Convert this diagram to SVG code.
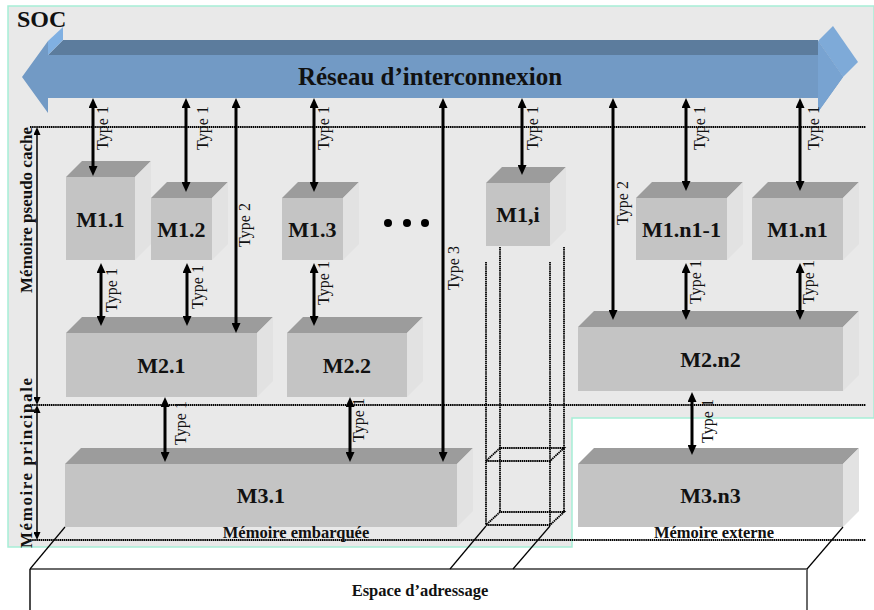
<svg xmlns="http://www.w3.org/2000/svg" width="874" height="610" viewBox="0 0 874 610">
<defs>
<style>
.lbl{font-family:"Liberation Serif","Times New Roman",serif;font-weight:bold;font-size:22px;text-anchor:middle;fill:#111}
.ty{font-family:"Liberation Serif","Times New Roman",serif;font-size:16px;text-anchor:middle;fill:#111}
.bl{font-family:"Liberation Serif","Times New Roman",serif;font-weight:bold;fill:#111}
.front{fill:#c4c4c4}
.top{fill:#9c9c9c}
.side{fill:#e2e2e2}
.conn{stroke:#000;stroke-width:3;fill:none;marker-start:url(#ah);marker-end:url(#ah)}
.dim{stroke:#000;stroke-width:1.5;fill:none;marker-start:url(#sh);marker-end:url(#sh)}
.dot{stroke:#000;stroke-width:2;stroke-dasharray:1.5 0.6;fill:none}
.wire{stroke:#000;stroke-width:1.8;stroke-dasharray:1.5 0.6;fill:none}
.thin{stroke:#000;stroke-width:1.2;fill:none}
</style>
<marker id="ah" viewBox="0 0 10 9" markerWidth="10" markerHeight="9" refX="2" refY="4.5" orient="auto-start-reverse" markerUnits="userSpaceOnUse"><path d="M0,0 L10,4.5 L0,9 Z" fill="#000"/></marker>
<marker id="sh" viewBox="0 0 8 7" markerWidth="8" markerHeight="7" refX="1" refY="3.5" orient="auto-start-reverse" markerUnits="userSpaceOnUse"><path d="M0,0 L8,3.5 L0,7 Z" fill="#000"/></marker>
</defs>

<rect x="0" y="0" width="874" height="610" fill="#fff"/>

<g id="soc">
<polygon points="8,6 874,6 874,418 572,418 572,547 8,547" fill="#e9e9e9" stroke="#a6eed6" stroke-width="1.5"/>
<text class="bl" x="17" y="27" font-size="24">SOC</text>
</g>

<g id="reseau">
<polygon points="48,55 63,40 818,40 818,55" fill="#5c7c9d"/>
<polygon points="48,41 63,27 63,40 48,55" fill="#80b0e2"/>
<polygon points="818,41 833,26 858,62 843,77" fill="#7eaad8"/>
<polygon points="22,77 48,41 48,55 818,55 818,41 843,77 818,112 818,98 48,98 48,113" fill="#729ac5"/>
<polygon points="818,41 843,77 818,112" fill="#78a3d1"/>
<text class="bl" x="430" y="85" font-size="25" text-anchor="middle">Réseau d’interconnexion</text>
</g>

<g id="niveaux">
<line class="dot" x1="30" y1="127" x2="866" y2="127"/>
<line class="dot" x1="30" y1="405" x2="866" y2="405"/>
<line class="dot" x1="28" y1="540" x2="866" y2="540"/>
<line class="dim" x1="37" y1="134" x2="37" y2="398"/>
<line class="dim" x1="37" y1="412" x2="37" y2="533"/>
<text class="bl" font-size="17" text-anchor="middle" transform="translate(32,210) rotate(-90)">Mémoire pseudo cache</text>
<text class="bl" font-size="17" text-anchor="middle" textLength="170" lengthAdjust="spacing" transform="translate(32,463) rotate(-90)">Mémoire principale</text>
</g>

<g id="M1.1"><polygon class="top" points="66,177 82,161 151,161 135,177"/><polygon class="side" points="135,177 151,161 151,244 135,260"/><rect class="front" x="66" y="177" width="69" height="83"/><text class="lbl" x="100.5" y="227">M1.1</text></g>
<g id="M1.2"><polygon class="top" points="151,198 167,182 228,182 212,198"/><polygon class="side" points="212,198 228,182 228,244 212,260"/><rect class="front" x="151" y="198" width="61" height="62"/><text class="lbl" x="181.5" y="237">M1.2</text></g>
<g id="M1.3"><polygon class="top" points="282,198 298,182 359,182 343,198"/><polygon class="side" points="343,198 359,182 359,244 343,260"/><rect class="front" x="282" y="198" width="61" height="62"/><text class="lbl" x="312.5" y="237">M1.3</text></g>
<g id="dots"><circle cx="388" cy="223" r="4" fill="#000"/><circle cx="407" cy="223" r="4" fill="#000"/><circle cx="425" cy="223" r="4" fill="#000"/></g>
<g id="M1i"><polygon class="top" points="486,183 502,167 566,167 550,183"/><polygon class="side" points="550,183 566,167 566,230 550,246"/><rect class="front" x="486" y="183" width="64" height="63"/><text class="lbl" x="518" y="222">M1,i</text></g>
<g id="M1.n1-1"><polygon class="top" points="636,198 652,182 743,182 727,198"/><polygon class="side" points="727,198 743,182 743,244 727,260"/><rect class="front" x="636" y="198" width="91" height="62"/><text class="lbl" x="681.5" y="237">M1.n1-1</text></g>
<g id="M1.n1"><polygon class="top" points="752,198 768,182 859,182 843,198"/><polygon class="side" points="843,198 859,182 859,244 843,260"/><rect class="front" x="752" y="198" width="91" height="62"/><text class="lbl" x="797.5" y="237">M1.n1</text></g>
<g id="M2.1"><polygon class="top" points="66,333 82,317 273,317 257,333"/><polygon class="side" points="257,333 273,317 273,381 257,397"/><rect class="front" x="66" y="333" width="191" height="64"/><text class="lbl" x="161.5" y="373">M2.1</text></g>
<g id="M2.2"><polygon class="top" points="287,333 303,317 423,317 407,333"/><polygon class="side" points="407,333 423,317 423,381 407,397"/><rect class="front" x="287" y="333" width="120" height="64"/><text class="lbl" x="347" y="373">M2.2</text></g>
<g id="M2.n2"><polygon class="top" points="578,327 594,311 859,311 843,327"/><polygon class="side" points="843,327 859,311 859,375 843,391"/><rect class="front" x="578" y="327" width="265" height="64"/><text class="lbl" x="710.5" y="367">M2.n2</text></g>
<g id="M3.1"><polygon class="top" points="65,464 81,448 473,448 457,464"/><polygon class="side" points="457,464 473,448 473,511 457,527"/><rect class="front" x="65" y="464" width="392" height="63"/><text class="lbl" x="261" y="503">M3.1</text><text class="bl" font-size="16.5" x="296" y="538" text-anchor="middle">Mémoire embarquée</text></g>
<g id="M3.n3"><polygon class="top" points="578,464 594,448 859,448 843,464"/><polygon class="side" points="843,464 859,448 859,511 843,527"/><rect class="front" x="578" y="464" width="265" height="63"/><text class="lbl" x="710.5" y="503">M3.n3</text><text class="bl" font-size="16.5" x="714" y="538" text-anchor="middle">Mémoire externe</text></g>

<g id="tube">
<line class="wire" x1="500" y1="247" x2="500" y2="512"/>
<line class="wire" x1="564" y1="247" x2="564" y2="512"/>
<line class="wire" x1="486" y1="262" x2="486" y2="525"/>
<line class="wire" x1="550" y1="262" x2="550" y2="525"/>
<polyline class="wire" points="486,461 550,461 564,448 500,448 486,461"/>
<polyline class="wire" points="486,525 550,525 564,512 500,512 486,525"/>
</g>

<g id="espace">
<line x1="30" y1="569" x2="807" y2="569" stroke="#6a6a6a" stroke-width="2"/>
<line x1="30" y1="569" x2="30" y2="610" stroke="#111" stroke-width="1.5"/>
<line x1="807" y1="569" x2="807" y2="610" stroke="#6a6a6a" stroke-width="2"/>
<line class="thin" x1="30" y1="569" x2="65" y2="527"/>
<line class="thin" x1="450" y1="569" x2="486" y2="526"/>
<line class="thin" x1="513" y1="569" x2="550" y2="526"/>
<line class="thin" x1="807" y1="569" x2="843" y2="527"/>
<text class="bl" font-size="16.5" x="420" y="596" text-anchor="middle">Espace d’adressage</text>
</g>

<g id="connectors">
<path class="conn" d="M93,106 V168"/>
<path class="conn" d="M186,106 V184"/>
<path class="conn" d="M236,106 V325"/>
<path class="conn" d="M314,106 V184"/>
<path class="conn" d="M443,106 V454"/>
<path class="conn" d="M522,106 V167"/>
<path class="conn" d="M613,106 V312"/>
<path class="conn" d="M686,106 V183"/>
<path class="conn" d="M800,106 V183"/>
<path class="conn" d="M101,271 V318"/>
<path class="conn" d="M187,271 V318"/>
<path class="conn" d="M314,271 V318"/>
<path class="conn" d="M686,271 V312"/>
<path class="conn" d="M800,271 V312"/>
<path class="conn" d="M165,405 V454"/>
<path class="conn" d="M350,405 V454"/>
<path class="conn" d="M692,400 V447"/>
<text class="ty" transform="translate(108,128) rotate(-90)">Type 1</text>
<text class="ty" transform="translate(208,128) rotate(-90)">Type 1</text>
<text class="ty" transform="translate(250,225) rotate(-90)">Type 2</text>
<text class="ty" transform="translate(329,128) rotate(-90)">Type 1</text>
<text class="ty" transform="translate(459,268) rotate(-90)">Type 3</text>
<text class="ty" transform="translate(538,128) rotate(-90)">Type 1</text>
<text class="ty" transform="translate(628,203) rotate(-90)">Type 2</text>
<text class="ty" transform="translate(705,128) rotate(-90)">Type 1</text>
<text class="ty" transform="translate(819,128) rotate(-90)">Type 1</text>
<text class="ty" transform="translate(117,290) rotate(-90)">Type 1</text>
<text class="ty" transform="translate(203,287) rotate(-90)">Type 1</text>
<text class="ty" transform="translate(329,283) rotate(-90)">Type 1</text>
<text class="ty" transform="translate(701,282) rotate(-90)">Type 1</text>
<text class="ty" transform="translate(814,282) rotate(-90)">Type 1</text>
<text class="ty" transform="translate(186,423) rotate(-90)">Type 1</text>
<text class="ty" transform="translate(364,420) rotate(-90)">Type 1</text>
<text class="ty" transform="translate(713,421) rotate(-90)">Type 1</text>
</g>
</svg>
